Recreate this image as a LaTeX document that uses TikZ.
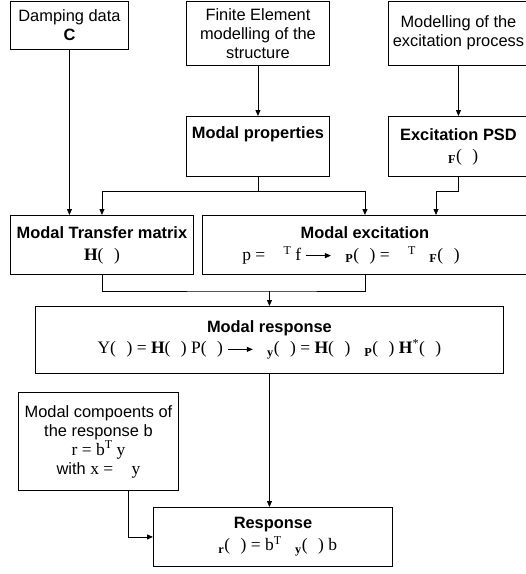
\documentclass[tikz,border=0pt]{standalone}
\usepackage{fontspec}
\setmainfont{Liberation Sans}
\newfontfamily\tmsfam{Liberation Serif}
\usetikzlibrary{calc,arrows.meta,positioning}

% gaps where the symbol glyphs are missing
\newcommand{\tms}{\tmsfam\fontsize{17.5}{19}\selectfont}
\newcommand{\om}{\hspace{0.6em}}
\newcommand{\figap}{\hspace{0.8em}}
\newcommand{\sgap}{\hspace{0.55em}}
\newcommand{\subb}[1]{\textsubscript{\bfseries #1}}
\newcommand{\supt}{\raisebox{0.75ex}{\fontsize{12}{12}\selectfont T}}
\newcommand{\longto}{\tikz[baseline=-0.55ex]\draw[line width=0.8pt,-{Triangle[length=6pt,width=5pt]}] (0pt,0pt) -- (25pt,0pt);}

\tikzset{
	box/.style={draw, line width=0.9pt, anchor=north west, inner sep=0pt, align=center,
		font=\fontsize{16.4}{19}\selectfont},
	arr/.style={line width=0.9pt, -{Triangle[length=6pt,width=5pt]}},
	lnk/.style={line width=0.9pt},
}

\begin{document}
\begin{tikzpicture}[x=1pt,y=-1pt]
		\useasboundingbox (0,0) rectangle (526,574);
		\node[box, minimum width=118pt, minimum height=48.5pt] (damp) at (10,0.5) {Damping data\\\textbf{C}};
		\node[box, minimum width=143pt, minimum height=64.5pt] (fem) at (186,0.5) {Finite Element\\modelling of the\\structure};
		\node[box, minimum width=140pt, minimum height=64.5pt] (excproc) at (388,0.5) {Modelling of the\\excitation process};
		\node[box, minimum width=143pt, minimum height=60pt] (modprop) at (186,116) {\textbf{Modal properties}\\[8pt]~};
		\node[box, minimum width=140pt, minimum height=60pt] (psd) at (388,116) {\textbf{Excitation PSD}\\[2pt]{\tms\sgap\subb{F}(\om)}};
		\node[box, minimum width=183pt, minimum height=59pt] (mtm) at (10,215) {\textbf{Modal Transfer matrix}\\[3pt]{\tms\textbf{H}(\om)}};
		\node[box, minimum width=325pt, minimum height=59pt] (mexc) at (202,215) {\textbf{Modal excitation}\\[3pt]{\tms p = \figap\supt\ f \longto\ \sgap\subb{P}(\om) = \figap\supt\ \sgap\subb{F}(\om)\hspace*{1.6em}}};
		\node[box, minimum width=468pt, minimum height=67pt] (mresp) at (35,306) {\textbf{Modal response}\\[2pt]{\tms Y(\om) = \textbf{H}(\om) P(\om) \longto\ \sgap\subb{y}(\om) = \textbf{H}(\om)\ \sgap\subb{P}(\om) \textbf{H}\textsuperscript{*}(\om)}};
		\node[box, minimum width=160pt, minimum height=98pt] (mcomp) at (18,392) {Modal compoents of\\the response b\\{\tms r = b\supt\ y}\\with {\tms x = \figap y}};
		\node[box, minimum width=239pt, minimum height=59pt] (resp) at (153,507) {\textbf{Response}\\[3pt]{\tms\sgap\subb{r}(\om) = b\supt\ \sgap\subb{y}(\om) b}};
		% top row down
		\draw[arr] (damp.south) -- (damp.south |- mtm.north);
		\draw[arr] (fem.south) -- (modprop.north);
		\draw[arr] (excproc.south) -- (excproc.south |- psd.north);
		% modal properties and PSD into the second row
		\coordinate (split) at ($(modprop.south)+(0,15)$);
		\coordinate (psdin) at (436,215);
		\draw[lnk] (modprop.south) -- (split);
		\draw[arr] (split) -| (mtm.north);
		\draw[arr] (split) -| (mexc.north);
		\draw[arr] (psd.south) -- ++(0,15) -| (psdin);
		% merge into modal response
		\coordinate (merge) at ($(mresp.north)+(0,-15)$);
		\draw[lnk] (mtm.south) |- (merge) -| (mexc.south);
		\draw[arr] (merge) -- (mresp.north);
		\draw[arr] (mresp.south) -- (mresp.south |- resp.north);
		\draw[arr] ($(mcomp.south)+(30,0)$) |- (resp.west);
	\end{tikzpicture}
\end{document}
